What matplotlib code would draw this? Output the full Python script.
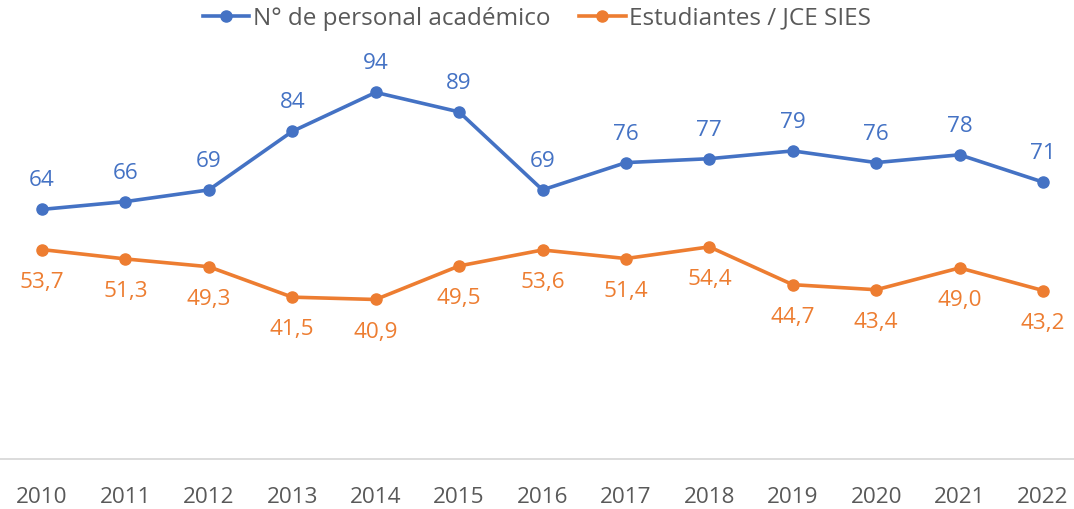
import matplotlib.pyplot as plt

years = ['2010', '2011', '2012', '2013', '2014', '2015', '2016',
         '2017', '2018', '2019', '2020', '2021', '2022']
academicos = [64, 66, 69, 84, 94, 89, 69, 76, 77, 79, 76, 78, 71]
estudiantes = [53.7, 51.3, 49.3, 41.5, 40.9, 49.5, 53.6, 51.4, 54.4, 44.7, 43.4, 49.0, 43.2]

blue = '#4472C4'
orange = '#ED7D31'
gray = '#595959'

plt.rcParams['font.family'] = ['Open Sans', 'DejaVu Sans']

fig = plt.figure(figsize=(10.74, 5.09), dpi=100)
ax = fig.add_axes([0, (509 - 459) / 509, 1, (459 - 69) / 509])

x = list(range(len(years)))
ax.plot(x, academicos, color=blue, lw=2.6, marker='o', ms=8, label='N° de personal académico')
ax.plot(x, estudiantes, color=orange, lw=2.6, marker='o', ms=8, label='Estudiantes / JCE SIES')

for i in x:
    ax.annotate(str(academicos[i]), (i, academicos[i]), xytext=(0, 13), textcoords='offset points',
                ha='center', va='bottom', color=blue, fontsize=16.2)
    ax.annotate(f'{estudiantes[i]:.1f}'.replace('.', ','), (i, estudiantes[i]), xytext=(0, -16),
                textcoords='offset points', ha='center', va='top', color=orange, fontsize=16.2)

ax.set_ylim(0, 100)
ax.set_xlim(-42 / 83.42, (1074 - 42) / 83.42)
ax.set_xticks(x)
ax.set_xticklabels(years, fontsize=16.2, color=gray)
ax.tick_params(axis='x', length=0, pad=20)
ax.set_yticks([])
for s in ['top', 'left', 'right']:
    ax.spines[s].set_visible(False)
ax.spines['bottom'].set_color('#D9D9D9')
ax.spines['bottom'].set_linewidth(1.3)

fig.legend(loc='upper center', bbox_to_anchor=(0.5, 1.03), ncol=2, frameon=False,
           fontsize=17.5, labelcolor=gray, handlelength=1.9, handletextpad=0.15, columnspacing=1.2)

fig.savefig('out.png', dpi=100)
